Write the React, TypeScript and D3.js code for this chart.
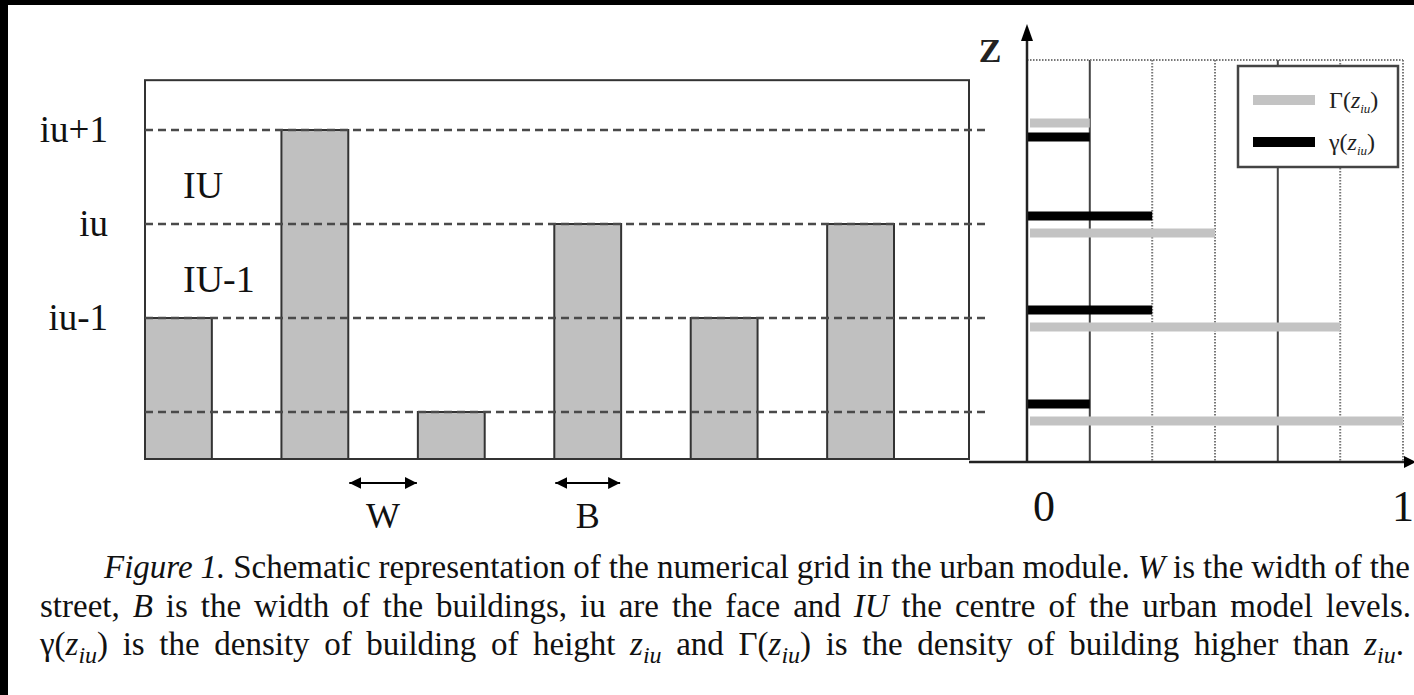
import React, { useRef, useEffect } from "react";
import * as d3 from "d3";

// building heights, counted in urban levels
const buildingHeights = [2, 4, 1, 3, 2, 3];
const levels = [1, 2, 3, 4];
const levelLabels = ["", "iu-1", "iu", "iu+1"];
const layerNames = ["IU-1", "IU"];
const layerMids = [2.5, 3.5];

// right panel: densities per level (bottom to top)
const smallGamma = [0.167, 0.333, 0.333, 0.167]; // γ(z_iu)
const bigGamma = [1.0, 0.833, 0.5, 0.167]; // Γ(z_iu)
const densityTicks = [0, 0.167, 0.333, 0.5, 0.667, 0.833, 1];
const densityTickLabels = ["0", "1"];
const densityLabelValues = [0, 1];

const SERIF = "'Liberation Serif', 'Times New Roman', serif";

const App: React.FC = () => {
  const svgRef = useRef<SVGSVGElement>(null);

  useEffect(() => {
    if (!svgRef.current) return;
    const width = 1414;
    const height = 695;
    const svg = d3.select(svgRef.current);
    svg.selectAll("*").remove();
    svg.attr("width", width).attr("height", height).style("font-family", SERIF);

    // scanned page edge
    svg.append("rect").attr("width", width).attr("height", height).attr("fill", "#000");
    svg.append("rect").attr("x", 8).attr("y", 5).attr("width", width).attr("height", height).attr("fill", "#fff");

    const defs = svg.append("defs");
    defs
      .append("marker")
      .attr("id", "ah")
      .attr("viewBox", "0 0 10 10")
      .attr("refX", 10)
      .attr("refY", 5)
      .attr("markerWidth", 6)
      .attr("markerHeight", 6)
      .attr("markerUnits", "strokeWidth")
      .attr("orient", "auto-start-reverse")
      .append("path")
      .attr("d", "M0,0L10,5L0,10z")
      .attr("fill", "#000");

    // ---------- left panel ----------
    const xB = d3
      .scaleBand<number>()
      .domain(d3.range(buildingHeights.length))
      .range([145, 894])
      .paddingInner(0.51)
      .paddingOuter(0)
      .align(0);
    const yL = d3.scaleLinear().domain([1, 4]).range([412, 130]);
    const ground = yL(0.5);
    const boxTop = yL(4.53);
    const boxLeft = 145;
    const boxRight = 969;

    const left = svg.append("g");

    left
      .selectAll("rect.bld")
      .data(buildingHeights)
      .join("rect")
      .attr("class", "bld")
      .attr("x", (_d, i) => xB(i)!)
      .attr("y", (d) => yL(d))
      .attr("width", xB.bandwidth())
      .attr("height", (d) => ground - yL(d))
      .attr("fill", "#c0c0c0")
      .attr("stroke", "#333")
      .attr("stroke-width", 2);

    left
      .append("rect")
      .attr("x", boxLeft)
      .attr("y", boxTop)
      .attr("width", boxRight - boxLeft)
      .attr("height", ground - boxTop)
      .attr("fill", "none")
      .attr("stroke", "#333")
      .attr("stroke-width", 2);

    left
      .selectAll("line.lvl")
      .data(levels)
      .join("line")
      .attr("class", "lvl")
      .attr("x1", boxLeft)
      .attr("x2", 986)
      .attr("y1", (d) => yL(d))
      .attr("y2", (d) => yL(d))
      .attr("stroke", "#4a4a4a")
      .attr("stroke-width", 2.4)
      .attr("stroke-dasharray", "8 5");

    left
      .selectAll("text.lvl")
      .data(levels)
      .join("text")
      .attr("class", "lvl")
      .attr("x", 108)
      .attr("y", (d) => yL(d) + 12)
      .attr("text-anchor", "end")
      .attr("font-size", 37)
      .attr("fill", "#111")
      .text((_d, i) => levelLabels[i]);

    left
      .selectAll("text.layer")
      .data(layerMids)
      .join("text")
      .attr("class", "layer")
      .attr("x", 183)
      .attr("y", (d) => yL(d) + 21)
      .attr("font-size", 38)
      .attr("fill", "#111")
      .text((_d, i) => layerNames[i]);

    // W and B dimension arrows
    const arrowY = 483;
    const dims = [
      { x1: xB(1)! + xB.bandwidth(), x2: xB(2)!, label: "W" },
      { x1: xB(3)!, x2: xB(3)! + xB.bandwidth(), label: "B" },
    ];
    dims.forEach((dm) => {
      left
        .append("line")
        .attr("x1", dm.x1 + 1)
        .attr("x2", dm.x2 - 1)
        .attr("y1", arrowY)
        .attr("y2", arrowY)
        .attr("stroke", "#000")
        .attr("stroke-width", 2)
        .attr("marker-start", "url(#ah)")
        .attr("marker-end", "url(#ah)");
      left
        .append("text")
        .attr("x", (dm.x1 + dm.x2) / 2)
        .attr("y", 528)
        .attr("text-anchor", "middle")
        .attr("font-size", 36)
        .attr("fill", "#111")
        .text(dm.label);
    });

    // ---------- right panel ----------
    const xD = d3.scaleLinear().domain([0, 1]).range([1027, 1403]);
    const axisY = 462;
    const plotTop = 60;
    const right = svg.append("g");

    right
      .selectAll("line.grid")
      .data(densityTicks)
      .join("line")
      .attr("class", "grid")
      .attr("x1", (d) => xD(d))
      .attr("x2", (d) => xD(d))
      .attr("y1", plotTop)
      .attr("y2", axisY)
      .attr("stroke", (_d, i) => (i === 1 || i === 4 ? "#444" : "#777"))
      .attr("stroke-width", 2)
      .attr("stroke-dasharray", (_d, i) => (i === 1 || i === 4 ? null : "1.5 1.5"));

    right
      .append("line")
      .attr("x1", xD(0))
      .attr("x2", xD(1))
      .attr("y1", plotTop)
      .attr("y2", plotTop)
      .attr("stroke", "#777")
      .attr("stroke-width", 2)
      .attr("stroke-dasharray", "1.5 1.5");

    const barH = 9;
    const top = levels.length - 1;
    right
      .selectAll("line.big")
      .data(bigGamma)
      .join("line")
      .attr("class", "big")
      .attr("x1", xD(0) + 3)
      .attr("x2", (d) => xD(d))
      .attr("y1", (_d, i) => yL(levels[i]) + (i === top ? -7 : 9))
      .attr("y2", (_d, i) => yL(levels[i]) + (i === top ? -7 : 9))
      .attr("stroke", "#c3c3c3")
      .attr("stroke-width", barH);

    right
      .selectAll("line.small")
      .data(smallGamma)
      .join("line")
      .attr("class", "small")
      .attr("x1", xD(0))
      .attr("x2", (d) => xD(d))
      .attr("y1", (_d, i) => yL(levels[i]) + (i === top ? 7 : -8))
      .attr("y2", (_d, i) => yL(levels[i]) + (i === top ? 7 : -8))
      .attr("stroke", "#000")
      .attr("stroke-width", barH);

    // axes with arrow heads
    right
      .append("line")
      .attr("x1", boxRight)
      .attr("x2", 1408)
      .attr("y1", axisY)
      .attr("y2", axisY)
      .attr("stroke", "#222")
      .attr("stroke-width", 2.5);
    right
      .append("path")
      .attr("d", `M1404,${axisY - 6}L1416,${axisY}L1404,${axisY + 6}z`)
      .attr("fill", "#000");
    right
      .append("line")
      .attr("x1", xD(0))
      .attr("x2", xD(0))
      .attr("y1", axisY)
      .attr("y2", 38)
      .attr("stroke", "#222")
      .attr("stroke-width", 2.5);
    right
      .append("path")
      .attr("d", `M${xD(0) - 6},41L${xD(0)},24L${xD(0) + 6},41z`)
      .attr("fill", "#000");

    right
      .append("text")
      .attr("x", 990)
      .attr("y", 62)
      .attr("text-anchor", "middle")
      .attr("font-size", 34)
      .attr("font-weight", "bold")
      .attr("fill", "#222")
      .text("Z");

    right
      .selectAll("text.tick")
      .data(densityLabelValues)
      .join("text")
      .attr("class", "tick")
      .attr("x", (d, i) => xD(d) + (i === 0 ? 17 : 0))
      .attr("y", 521)
      .attr("text-anchor", "middle")
      .attr("font-size", 44)
      .attr("fill", "#111")
      .text((_d, i) => densityTickLabels[i]);

    // legend
    const lg = right.append("g").attr("transform", "translate(1238,66)");
    lg.append("rect")
      .attr("width", 160)
      .attr("height", 101)
      .attr("fill", "#fff")
      .attr("stroke", "#444")
      .attr("stroke-width", 2.5);
    const legendItems = [
      { color: "#c3c3c3", sym: "Γ", y: 34 },
      { color: "#000", sym: "γ", y: 76 },
    ];
    legendItems.forEach((it) => {
      lg.append("line")
        .attr("x1", 15)
        .attr("x2", 77)
        .attr("y1", it.y)
        .attr("y2", it.y)
        .attr("stroke", it.color)
        .attr("stroke-width", 10);
      const t = lg
        .append("text")
        .attr("x", 91)
        .attr("y", it.y + 8)
        .attr("font-size", 24)
        .attr("fill", "#222");
      t.append("tspan").text(it.sym + "(");
      t.append("tspan").attr("font-style", "italic").text("z");
      t.append("tspan").attr("font-style", "italic").attr("font-size", 13).attr("dy", 5).text("iu");
      t.append("tspan").attr("dy", -5).text(")");
    });

    // ---------- caption (justified) ----------
    const cap = svg.append("g").attr("font-size", 33).attr("fill", "#111");
    type Seg = { t: string; it?: boolean; sub?: boolean };
    const zsub = (s: string): Seg[] => [{ t: s + "(" }, { t: "z", it: true }, { t: "iu", it: true, sub: true }, { t: ")" }];
    const captionLines: { x: number; y: number; end: number; segs: Seg[] }[] = [
      {
        x: 104,
        y: 578,
        end: 1411,
        segs: [
          { t: "Figure 1.", it: true },
          { t: " Schematic representation of the numerical grid in the urban module. " },
          { t: "W", it: true },
          { t: " is the width of the" },
        ],
      },
      {
        x: 40,
        y: 617,
        end: 1411,
        segs: [
          { t: "street, " },
          { t: "B", it: true },
          { t: " is the width of the buildings, iu are the face and " },
          { t: "IU", it: true },
          { t: " the centre of the urban model levels." },
        ],
      },
      {
        x: 40,
        y: 655,
        end: 1405,
        segs: [
          ...zsub("γ"),
          { t: " is the density of building of height " },
          { t: "z", it: true },
          { t: "iu", it: true, sub: true },
          { t: " and " },
          ...zsub("Γ"),
          { t: " is the density of building higher than " },
          { t: "z", it: true },
          { t: "iu", it: true, sub: true },
          { t: "." },
        ],
      },
    ];
    captionLines.forEach((ln) => {
      const t = cap.append("text").attr("x", ln.x).attr("y", ln.y).attr("xml:space", "preserve");
      let shifted = false;
      ln.segs.forEach((sg) => {
        const ts = t.append("tspan").text(sg.t);
        if (sg.it) ts.attr("font-style", "italic");
        if (sg.sub && !shifted) {
          ts.attr("dy", 8).attr("font-size", 24);
          shifted = true;
        } else if (!sg.sub && shifted) {
          ts.attr("dy", -8);
          shifted = false;
        }
      });
      const node = t.node() as SVGTextElement;
      const natural = node.getBBox().width;
      const spaces = ln.segs.map((s) => s.t).join("").split(" ").length - 1;
      const extra = (ln.end - ln.x - natural) / spaces;
      t.style("word-spacing", `${extra}px`);
      // fall back to textLength if word-spacing is ignored
      const after = node.getBBox().width;
      if (Math.abs(after - (ln.end - ln.x)) > 4) {
        t.style("word-spacing", null);
        t.attr("textLength", ln.end - ln.x).attr("lengthAdjust", "spacing");
      }
    });
  }, []);

  return (
    <div style={{ position: "absolute", left: 0, top: 0, width: 1414, height: 695, overflow: "hidden" }}>
      <svg ref={svgRef} style={{ display: "block" }}></svg>
    </div>
  );
};

export default App;
